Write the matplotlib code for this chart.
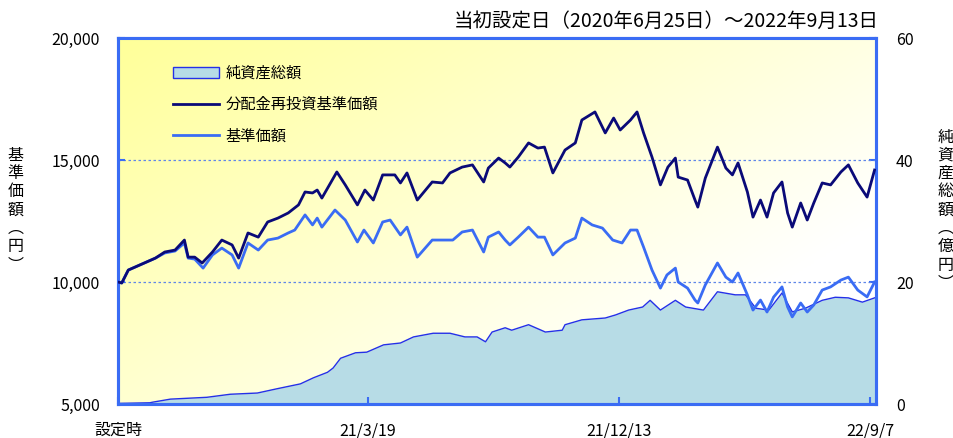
import matplotlib.pyplot as plt
import matplotlib.dates as mdates
from matplotlib.patches import Patch
from matplotlib.lines import Line2D
import numpy as np
import pandas as pd

plt.rcParams['font.family'] = ['Noto Sans CJK JP', 'DejaVu Sans']

start = pd.Timestamp('2020-06-25')

# days since launch / 分配金再投資基準価額 (円)
nav_re_days = [0, 4, 11, 40, 50, 61, 71, 75, 82, 90, 101, 111, 122, 129, 139, 150, 160, 171, 182, 193,
               200, 208, 213, 218, 234, 243, 256, 264, 273, 283, 296, 302, 309, 320, 336, 347, 355, 368,
               379, 391, 396, 407, 414, 419, 428, 439, 449, 456, 465, 478, 489, 496, 510, 521, 530, 537,
               548, 555, 562, 571, 580, 588, 596, 599, 609, 617, 620, 628, 641, 650, 657, 663, 673, 679,
               687, 694, 701, 710, 716, 721, 730, 737, 744, 753, 762, 773, 781, 791, 801, 809]
nav_re = [10000, 9960, 10490, 10980, 11230, 11310, 11720, 11020, 11020, 10780, 11230, 11720, 11520, 10980,
          12010, 11840, 12460, 12620, 12830, 13160, 13690, 13650, 13770, 13440, 14510, 13980, 13160, 13770,
          13360, 14390, 14390, 14060, 14470, 13360, 14100, 14060, 14470, 14710, 14800, 14100, 14670, 15080,
          14880, 14710, 15120, 15700, 15490, 15530, 14470, 15410, 15700, 16640, 16970, 16110, 16720, 16230,
          16640, 16970, 16110, 15120, 13980, 14710, 15080, 14300, 14180, 13360, 13070, 14260, 15530, 14670,
          14390, 14880, 13690, 12660, 13360, 12660, 13650, 14100, 12830, 12250, 13240, 12540, 13240, 14060,
          13980, 14510, 14800, 14060, 13480, 14590]

# 基準価額 (円)
nav_days = [0, 4, 11, 40, 50, 61, 71, 75, 82, 91, 101, 111, 122, 129, 139, 150, 160, 171, 182, 189,
            200, 208, 213, 218, 232, 243, 256, 263, 273, 283, 291, 302, 309, 320, 336, 350, 358, 368,
            379, 391, 396, 407, 414, 419, 428, 439, 449, 456, 465, 478, 489, 496, 507, 518, 529, 539,
            548, 555, 562, 571, 580, 587, 596, 599, 609, 617, 620, 628, 641, 650, 657, 663, 673, 679,
            687, 694, 701, 710, 716, 721, 730, 737, 744, 753, 762, 773, 781, 791, 801, 809]
nav = [10000, 9960, 10490, 10980, 11190, 11270, 11600, 10980, 10940, 10570, 11110, 11390, 11110, 10570,
       11600, 11310, 11720, 11800, 12010, 12130, 12750, 12340, 12620, 12250, 12950, 12540, 11640, 12130,
       11600, 12460, 12540, 11930, 12250, 11020, 11720, 11720, 11720, 12050, 12130, 11230, 11840, 12050,
       11720, 11520, 11840, 12250, 11840, 11840, 11110, 11600, 11800, 12620, 12340, 12210, 11720, 11600,
       12130, 12130, 11430, 10490, 9750, 10290, 10570, 10000, 9750, 9260, 9140, 9880, 10780, 10200,
       10000, 10370, 9470, 8850, 9260, 8770, 9380, 9800, 8980, 8570, 9140, 8770, 9060, 9670,
       9800, 10080, 10200, 9670, 9390, 10000]

# 純資産総額 (億円)
aum_days = [0, 34, 37, 56, 95, 120, 149, 170, 195, 209, 224, 230, 238, 254, 266, 284, 302, 316, 337, 355,
            371, 384, 393, 400, 414, 421, 439, 457, 475, 478, 496, 521, 532, 546, 561, 569, 580, 596,
            607, 626, 641, 660, 671, 682, 696, 710, 721, 735, 753, 767, 781, 796, 809]
aum = [0.1, 0.2, 0.3, 0.8, 1.1, 1.6, 1.8, 2.5, 3.3, 4.3, 5.2, 5.9, 7.5, 8.4, 8.5, 9.7, 10.0, 11.0, 11.6,
       11.6, 11.0, 11.0, 10.2, 11.8, 12.5, 12.1, 13.0, 11.8, 12.1, 13.0, 13.8, 14.1, 14.6, 15.4, 15.9,
       17.0, 15.4, 17.0, 15.9, 15.4, 18.4, 17.9, 17.9, 15.7, 15.4, 18.2, 15.1, 15.7, 17.0, 17.5, 17.4,
       16.7, 17.4]

tick_dates = ['2020-06-25', '2021-03-19', '2021-12-13', '2022-09-07']
tick_labels = ['設定時', '21/3/19', '21/12/13', '22/9/7']

to_dates = lambda d: start + pd.to_timedelta(d, unit='D')

frame = '#3a6cf4'
fig = plt.figure(figsize=(9.54, 4.38), dpi=100)
ax = fig.add_axes([0.1237, 0.0776, 0.795, 0.8356])
ax2 = ax.twinx()
ax.set_zorder(2)
ax2.set_zorder(1)
ax.patch.set_visible(False)

# yellow (top-left) -> white (bottom-right) background
g = np.linspace(0, 1, 200)
gx, gy = np.meshgrid(g, g)
t = np.clip((gx * 0.8 + gy * 0.6) / 1.1, 0, 1)
c0 = np.array([1.0, 1.0, 0.6])
c1 = np.array([1.0, 1.0, 1.0])
img = c0[None, None, :] * (1 - t[..., None]) + c1[None, None, :] * t[..., None]
ax2.imshow(img, extent=[0, 1, 0, 1], transform=ax2.transAxes, aspect='auto', origin='upper', zorder=0)

ax2.fill_between(to_dates(aum_days), aum, 0, color='#b7dce6', lw=0, zorder=1)
ax2.plot(to_dates(aum_days), aum, color='#2430e8', lw=1.0, zorder=2)
ax2.set_ylim(0, 60)
ax2.set_yticks([0, 20, 40, 60])

ax.plot(to_dates(nav_days), nav, color='#3a6cf4', lw=2.0, zorder=3)
ax.plot(to_dates(nav_re_days), nav_re, color='#0a0a78', lw=2.0, zorder=4)
for yv in [10000, 15000]:
    ax.axhline(yv, color='#5f86e8', lw=0.9, ls=(0, (2, 2)), zorder=1)
ax.set_ylim(5000, 20000)
ax.set_yticks([5000, 10000, 15000, 20000])
ax.set_yticklabels(['5,000', '10,000', '15,000', '20,000'])
ax.set_xlim(start, pd.Timestamp('2022-09-14'))
ax.set_xticks(pd.to_datetime(tick_dates))
ax.set_xticklabels(tick_labels)

for a in (ax, ax2):
    for s in a.spines.values():
        s.set_color(frame)
        s.set_linewidth(2.2)
ax.spines['top'].set_linewidth(1.5)
ax.tick_params(axis='y', direction='in', length=5, width=1.5, color=frame, labelsize=11.5, pad=13)
ax.tick_params(axis='x', direction='in', length=5, width=1.5, color=frame, labelsize=11.5, pad=13)
ax2.tick_params(axis='y', direction='in', length=5, width=1.5, color=frame, labelsize=11.5, pad=14)

fig.text(0.016, 0.52, '基\n準\n価\n額\n︵\n円\n︶', ha='center', va='center', fontsize=11.5, linespacing=1.1)
fig.text(0.991, 0.52, '純\n資\n産\n総\n額\n︵\n億\n円\n︶', ha='center', va='center', fontsize=11.5, linespacing=1.1)
fig.text(0.921, 0.952, '当初設定日（2020年6月25日）～2022年9月13日', ha='right', va='center', fontsize=14)

handles = [Patch(facecolor='#b7dce6', edgecolor='#2430e8', lw=1.0),
           Line2D([], [], color='#0a0a78', lw=2.0),
           Line2D([], [], color='#3a6cf4', lw=2.0)]
ax.legend(handles, ['純資産総額', '分配金再投資基準価額', '基準価額'], loc='upper left',
          bbox_to_anchor=(0.055, 0.965), frameon=False, fontsize=11, handlelength=3.0,
          labelspacing=0.95, handletextpad=0.4)

fig.savefig('out.png', dpi=100)
